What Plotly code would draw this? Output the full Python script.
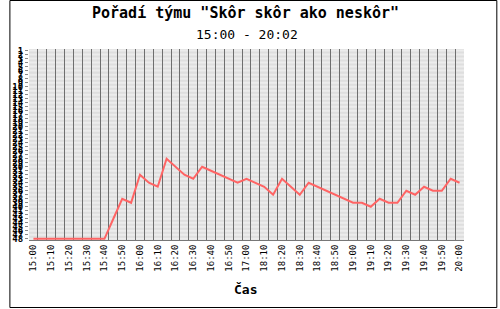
import plotly.graph_objects as go

# Time categories (5-minute samples), labels shown for times ending in :x0
times = ["15:00","15:05","15:10","15:15","15:20","15:25","15:30","15:35","15:40","15:45",
         "15:50","15:55","16:00","16:05","16:10","16:15","16:20","16:25","16:30","16:35",
         "16:40","16:45","16:50","16:55","17:00","18:05","18:10","18:15","18:20","18:25",
         "18:30","18:35","18:40","18:45","18:50","18:55","19:00","19:05","19:10","19:15",
         "19:20","19:25","19:30","19:35","19:40","19:45","19:50","19:55","20:00"]
ranks = [48,48,48,48,48,48,48,48,48,43,
         38,39,32,34,35,28,30,32,33,30,
         31,32,33,34,33,34,35,37,33,35,
         37,34,35,36,37,38,39,39,40,38,
         39,39,36,37,35,36,36,33,34]
n_teams = 48
rank_ticks = list(range(1, n_teams + 1))

title_text = "Pořadí týmu \"Skôr skôr ako neskôr\""
subtitle_text = "15:00 - 20:02"
x_title = "Čas"

idx = list(range(len(times)))
label_idx = [i for i, t in enumerate(times) if t.endswith("0")]
label_txt = [times[i] for i in label_idx]
boundaries = [i - 0.5 for i in range(len(times) + 1)]

W, H = 500, 309
L, R, T, B = 20, 36, 49, 69
pw, ph = W - L - R, H - T - B

fig = go.Figure()
fig.add_trace(go.Scatter(x=idx, y=ranks, mode="lines",
                         line=dict(color="#ff6464", width=2), hoverinfo="skip"))

# light background stripes, one per rank
stripes = [dict(type="rect", xref="paper", yref="y", x0=0, x1=1,
                y0=r - 0.25, y1=r + 0.25, line=dict(width=0),
                fillcolor="#ececec", layer="below") for r in rank_ticks]

mono = "DejaVu Sans Mono"
fig.update_layout(
    width=W, height=H, margin=dict(l=L, r=R, t=T, b=B),
    paper_bgcolor="white", plot_bgcolor="#dedede", showlegend=False,
    xaxis=dict(range=[-0.5, len(times) - 0.5], tickvals=label_idx, ticktext=label_txt,
               tickangle=-90, showgrid=False, zeroline=False,
               tickfont=dict(family=mono, size=9, color="black"),
               ticks="", showline=True, linecolor="#777777", linewidth=1,
               minor=dict(tickvals=boundaries, showgrid=True, gridcolor="#6e6e6e",
                          gridwidth=1, griddash="solid", ticks="")),
    yaxis=dict(range=[n_teams + 0.3, 0.6], tickvals=rank_ticks,
               ticktext=["<b>" + str(r) + "</b>" for r in rank_ticks],
               showgrid=False, zeroline=False,
               tickfont=dict(family=mono, size=9, color="black"),
               ticks="outside", ticklen=3, tickcolor="#888888", showline=False),
    annotations=[
        dict(text="<b>" + title_text + "</b>", xref="paper", yref="paper",
             x=(241 - L) / pw, y=(H - B - 13) / ph, xanchor="center", yanchor="middle",
             showarrow=False, font=dict(family=mono, size=15, color="black")),
        dict(text=subtitle_text, xref="paper", yref="paper",
             x=(242 - L) / pw, y=(H - B - 34) / ph, xanchor="center", yanchor="middle",
             showarrow=False, font=dict(family=mono, size=13, color="black")),
        dict(text="<b>" + x_title + "</b>", xref="paper", yref="paper",
             x=(241 - L) / pw, y=(H - B - 289) / ph, xanchor="center", yanchor="middle",
             showarrow=False, font=dict(family=mono, size=13, color="black")),
    ],
    shapes=stripes + [dict(type="rect", xref="paper", yref="paper",
                 x0=(0.5 - L) / pw, x1=(497.5 - L) / pw,
                 y0=(H - B - 307.5) / ph, y1=(H - B - 0.5) / ph,
                 line=dict(color="black", width=1), fillcolor="rgba(0,0,0,0)", layer="above")],
)

fig.write_html("out.html")
